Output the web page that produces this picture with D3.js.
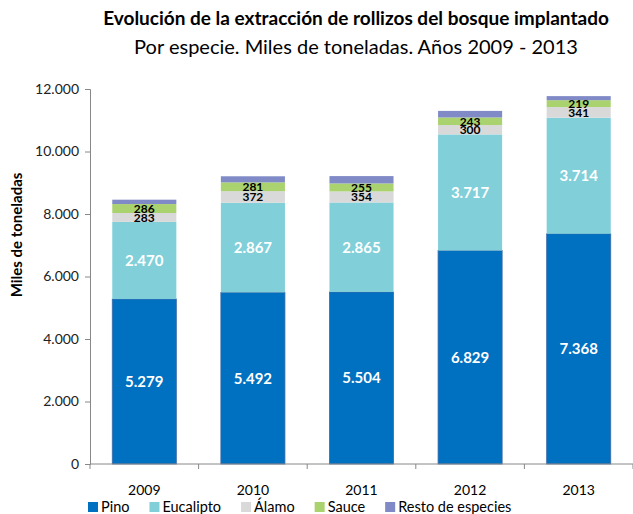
<!DOCTYPE html>
<html><head><meta charset="utf-8">
<script src="https://cdn.jsdelivr.net/npm/d3@7"></script>
<style>body{margin:0;background:#fff}svg{display:block}</style>
</head><body>
<svg id="c" width="633" height="514"></svg>
<script>
const years = ["2009","2010","2011","2012","2013"];
const seriesNames = ["Pino","Eucalipto","Álamo","Sauce","Resto de especies"];
const pino = [5279,5492,5504,6829,7368];
const eucalipto = [2470,2867,2865,3717,3714];
const alamo = [283,372,354,300,341];
const sauce = [286,281,255,243,219];
const resto = [140,195,235,210,130];
const yTicks = [0,2000,4000,6000,8000,10000,12000];
const colors = ["#0070C0","#80CFD9","#D9D9D9","#AAD36F","#7F8AC6"];
const labelled = [true,true,true,true,false];

const FONT = "Lato, 'Open Sans', sans-serif";
const loc = d3.formatLocale({decimal:",",thousands:".",grouping:[3],currency:["",""]});
const fmt = loc.format(",d");

const svg = d3.select("#c");
const m = {l:90, r:633, t:89, b:464};
const x = d3.scaleBand().domain(years).range([m.l, m.r]).paddingInner(0.41).paddingOuter(0.205);
const y = d3.scaleLinear().domain([0,12000]).range([m.b, m.t]);

const table = years.map((yr,i)=>({year:yr,"Pino":pino[i],"Eucalipto":eucalipto[i],"Álamo":alamo[i],"Sauce":sauce[i],"Resto de especies":resto[i]}));
const stack = d3.stack().keys(seriesNames)(table);

// title
svg.append("text").attr("x",356).attr("y",25).attr("text-anchor","middle")
  .attr("font-family",FONT).attr("font-weight","bold").attr("font-size",19).attr("fill","#000")
  .text("Evolución de la extracción de rollizos del bosque implantado");
svg.append("text").attr("x",356).attr("y",54).attr("text-anchor","middle")
  .attr("font-family",FONT).attr("font-size",20).attr("fill","#000")
  .text("Por especie. Miles de toneladas. Años 2009 - 2013");

// bars
const g = svg.append("g");
stack.forEach((s,si)=>{
  g.append("g").selectAll("rect").data(s).join("rect")
    .attr("x",d=>x(d.data.year)).attr("width",x.bandwidth())
    .attr("y",d=>y(d[1])).attr("height",d=>y(d[0])-y(d[1]))
    .attr("fill",colors[si])
    .attr("stroke", si===0 ? "#3d6aa8" : "none").attr("stroke-width",si===0?0.8:0);
});

// labels
stack.forEach((s,si)=>{
  if(!labelled[si]) return;
  const big = si<2;
  g.append("g").selectAll("text").data(s).join("text")
    .attr("x",d=>x(d.data.year)+x.bandwidth()/2)
    .attr("y",d=>(y(d[0])+y(d[1]))/2)
    .attr("dy","0.36em").attr("text-anchor","middle")
    .attr("font-family",FONT).attr("font-weight","bold")
    .attr("font-size",big?15:12)
    .attr("fill",big?"#fff":"#000")
    .text(d=>fmt(d[1]-d[0]));
});

// y axis
const ya = svg.append("g").attr("transform",`translate(${m.l},0)`)
  .call(d3.axisLeft(y).tickValues(yTicks).tickFormat(fmt).tickSizeOuter(0).tickSize(5).tickPadding(6));
ya.select(".domain").attr("stroke","#888");
ya.selectAll(".tick line").attr("stroke","#888");
ya.selectAll("text").attr("font-family",FONT).attr("font-size",14).attr("fill","#222");

// x axis
const xa = svg.append("g").attr("transform",`translate(0,${m.b})`);
xa.append("line").attr("x1",m.l).attr("x2",m.r).attr("stroke","#888");
const bounds = years.map((d,i)=>m.l + (m.r-m.l)/years.length*i);
xa.selectAll("line.t").data(bounds.concat([m.r])).join("line").attr("class","t")
  .attr("x1",d=>d).attr("x2",d=>d).attr("y1",0).attr("y2",5).attr("stroke","#888");
xa.selectAll("text").data(years).join("text")
  .attr("x",d=>x(d)+x.bandwidth()/2).attr("y",31).attr("text-anchor","middle")
  .attr("font-family",FONT).attr("font-size",14).attr("fill","#000").text(d=>d);

// y label
svg.append("text").attr("transform","translate(22,235) rotate(-90)").attr("text-anchor","middle")
  .attr("font-family",FONT).attr("font-weight","bold").attr("font-size",15).attr("fill","#000")
  .text("Miles de toneladas");

// legend
const lg = svg.append("g");
let lx = 88;
seriesNames.forEach((n,i)=>{
  lg.append("rect").attr("x",lx).attr("y",502).attr("width",10).attr("height",10).attr("fill",colors[i]);
  const t = lg.append("text").attr("x",lx+13).attr("y",512).attr("font-family",FONT).attr("font-size",14.5).attr("fill","#000").text(n);
  lx += 13 + t.node().getComputedTextLength() + 20;
});
</script>
</body></html>
